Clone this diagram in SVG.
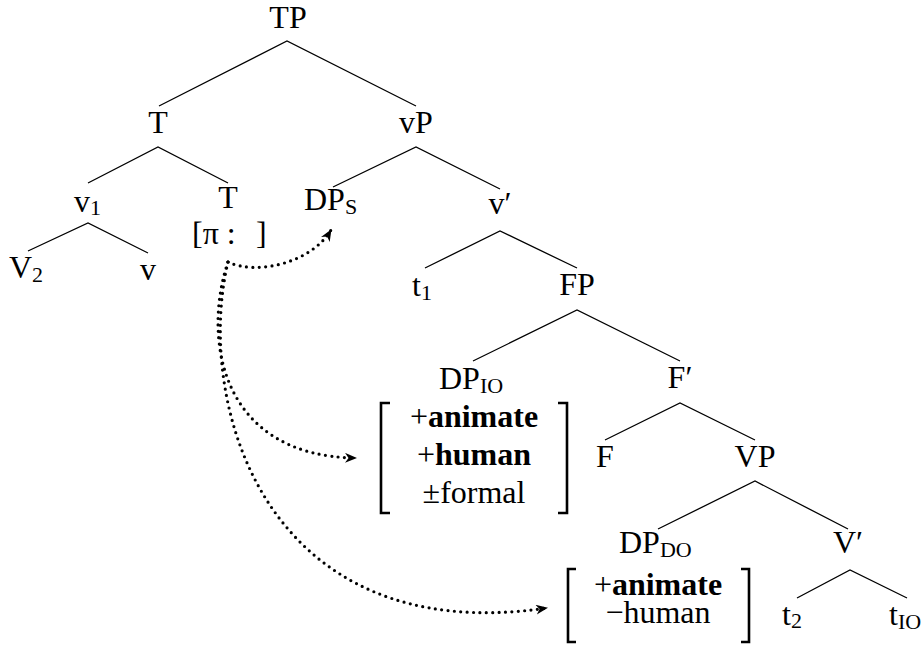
<svg xmlns="http://www.w3.org/2000/svg" width="923" height="648" viewBox="0 0 923 648">
  <defs>
    <style>
      text { font-family: 'Liberation Serif', 'Times New Roman', serif; font-size: 32px; fill: #000; }
      .mid { text-anchor: middle; }
      .sub { font-size: 22px; }
      .b { font-weight: bold; }
      .edge { stroke: #000; stroke-width: 1.3; fill: none; }
      .brk { stroke: #000; stroke-width: 2.6; fill: none; }
      .agree { stroke: #000; stroke-width: 3.2; fill: none; stroke-dasharray: 0 6.4; stroke-linecap: round; }
    </style>
    <marker id="head" markerUnits="userSpaceOnUse" markerWidth="14" markerHeight="12" refX="11" refY="5" orient="auto">
      <path d="M0,0 L12,5 L0,10 L3.5,5 Z" fill="#000"/>
    </marker>
  </defs>

  <rect width="923" height="648" fill="#fff"/>

  <!-- tree branches -->
  <g id="edges">
    <path class="edge" d="M159,106 L287,41 L416,106"/>
    <path class="edge" d="M88,183 L158,147 L228,183"/>
    <path class="edge" d="M333,187 L416,147 L500,189"/>
    <path class="edge" d="M28,251 L88,223 L148,253"/>
    <path class="edge" d="M425,268 L500,231 L577,268"/>
    <path class="edge" d="M473,361 L577,310 L680,361"/>
    <path class="edge" d="M605,440 L680,403 L755,440"/>
    <path class="edge" d="M658,529 L755,481 L848,529"/>
    <path class="edge" d="M797,598 L850,570 L907,598"/>
  </g>

  <!-- agreement probes from the phi-probe on T -->
  <g id="probes">
    <path class="agree" d="M228,262 C258,276 312,262 331,230" marker-end="url(#head)"/>
    <path class="agree" d="M228,262 C203,335 218,456 356,458" marker-end="url(#head)"/>
    <path class="agree" d="M228,262 C195,400 262,650 547,608" marker-end="url(#head)"/>
  </g>

  <g id="TP"><text class="mid" x="288" y="28">TP</text></g>
  <g id="T-bar"><text class="mid" x="158" y="133">T</text></g>
  <g id="vP"><text class="mid" x="416" y="133">vP</text></g>
  <g id="v1"><text x="74" y="212">v<tspan class="sub" dy="3">1</tspan></text></g>
  <g id="T-head">
    <text class="mid" x="228" y="208">T</text>
    <text x="192" y="244">[π :</text>
    <text x="256" y="244">]</text>
  </g>
  <g id="DPS"><text x="304" y="210">DP<tspan class="sub" dy="4">S</tspan></text></g>
  <g id="v-bar"><text class="mid" x="500" y="214">v′</text></g>
  <g id="V2"><text x="9" y="278">V<tspan class="sub" dy="4">2</tspan></text></g>
  <g id="v"><text class="mid" x="148" y="280">v</text></g>
  <g id="t1"><text x="412" y="296">t<tspan class="sub" dy="4">1</tspan></text></g>
  <g id="FP"><text class="mid" x="577" y="295">FP</text></g>

  <g id="DPIO">
    <text x="439" y="389">DP<tspan class="sub" dy="4">IO</tspan></text>
    <path class="brk" d="M390,403 L381,403 L381,513 L390,513"/>
    <path class="brk" d="M558,403 L567,403 L567,513 L558,513"/>
    <text class="mid" x="474" y="427">+<tspan class="b">animate</tspan></text>
    <text class="mid" x="474" y="465">+<tspan class="b">human</tspan></text>
    <text class="mid" x="474" y="503">±formal</text>
  </g>

  <g id="F-bar"><text class="mid" x="680" y="388">F′</text></g>
  <g id="F"><text class="mid" x="605" y="467">F</text></g>
  <g id="VP"><text class="mid" x="755" y="467">VP</text></g>

  <g id="DPDO">
    <text x="619" y="553">DP<tspan class="sub" dy="4">DO</tspan></text>
    <path class="brk" d="M576,569 L568,569 L568,642 L576,642"/>
    <path class="brk" d="M741,569 L749,569 L749,642 L741,642"/>
    <text class="mid" x="658" y="595">+<tspan class="b">animate</tspan></text>
    <text class="mid" x="658" y="623">−human</text>
  </g>

  <g id="V-bar"><text class="mid" x="848" y="553">V′</text></g>
  <g id="t2"><text x="782" y="625">t<tspan class="sub" dy="3">2</tspan></text></g>
  <g id="tIO"><text x="889" y="625">t<tspan class="sub" dy="4">IO</tspan></text></g>
</svg>
